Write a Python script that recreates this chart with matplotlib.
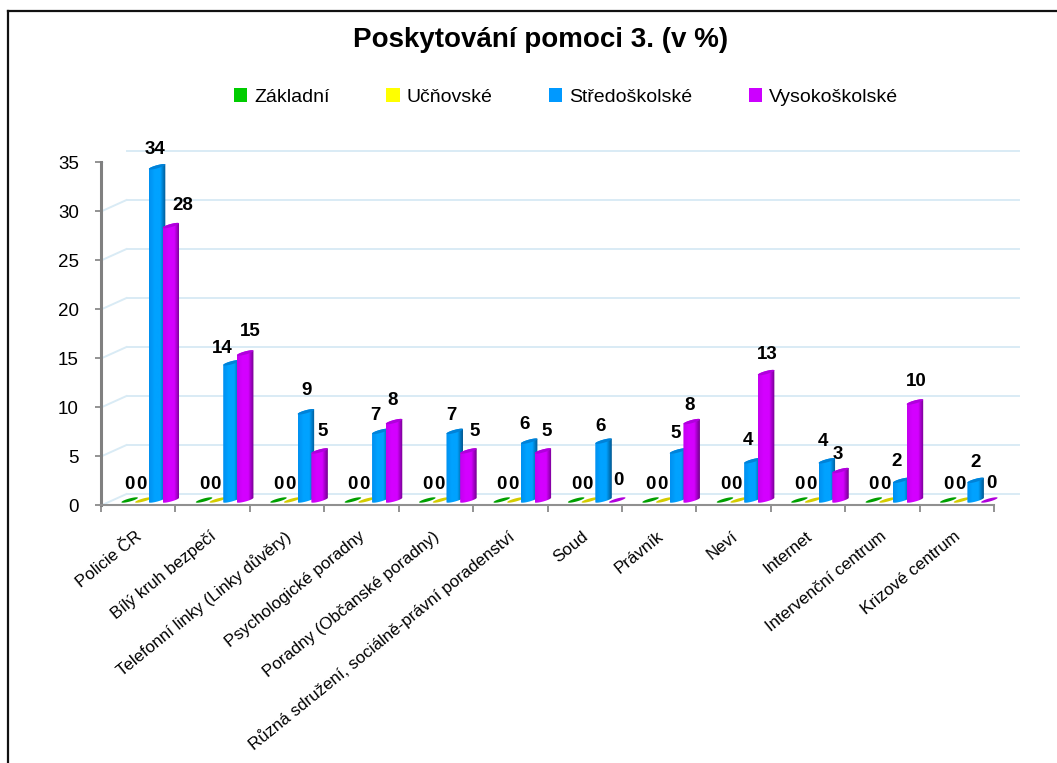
import numpy as np
import matplotlib
matplotlib.use("Agg")
import matplotlib.pyplot as plt
from matplotlib.patches import Patch, PathPatch
from matplotlib.path import Path
from matplotlib.colors import LinearSegmentedColormap
from matplotlib.transforms import Affine2D

plt.rcParams["font.family"] = ["Liberation Sans", "DejaVu Sans"]

categories = [
    "Policie ČR",
    "Bílý kruh bezpečí",
    "Telefonní linky (Linky důvěry)",
    "Psychologické poradny",
    "Poradny (Občanské poradny)",
    "Různá sdružení, sociálně-právní poradenství",
    "Soud",
    "Právník",
    "Neví",
    "Internet",
    "Intervenční centrum",
    "Krizové centrum",
]
series_names = ["Základní", "Učňovské", "Středoškolské", "Vysokoškolské"]
zakladni = [0, 0, 0, 0, 0, 0, 0, 0, 0, 0, 0, 0]
ucnovske = [0, 0, 0, 0, 0, 0, 0, 0, 0, 0, 0, 0]
stredoskolske = [34, 14, 9, 7, 7, 6, 6, 5, 4, 4, 2, 2]
vysokoskolske = [28, 15, 5, 8, 5, 5, 0, 8, 13, 3, 10, 0]
y_ticks = [0, 5, 10, 15, 20, 25, 30, 35]

legend_colors = ["#00cc00", "#ffff00", "#0099ff", "#cc00ff"]
shades = [
    ("#009a00", "#00b400", "#006a00"),
    ("#d8d800", "#e8e800", "#a8a800"),
    ("#0090f0", "#00a2ff", "#00568f"),
    ("#c400ee", "#d400ff", "#70008c"),
]
cap_colors = ["#00a000", "#d4cc00", "#0082d8", "#b000dc"]

# hand nudges for the value labels, pixels (dx, dy above bar top)
blue_dx = [-2.5, -9, 1, -5, -3, -4.5, -3, -2, -4, -4, -4.5, 0]
blue_dy = [17, 14, 21, 16, 16, 17, 15, 17, 20, 19, 19, 18]
mag_dx = [12, 5, 3, -1, 6, 4, 1, -2, 1, -3, 1, 2]
mag_dy = [20, 21, 19, 21, 19, 19, 19, 16, 18, 16, 20, 16]

W, H = 1057, 763
fig = plt.figure(figsize=(W / 100, H / 100), dpi=100)
# axes box is the front edge of the fake 3d floor
ax = fig.add_axes([101 / W, 1 - 505.5 / H, 893 / W, 343 / H])
ax.set_xlim(0, 12)
ax.set_ylim(0, 35)
ax.patch.set_visible(False)

px_x = 893 / 12
px_y = 343 / 35
back = ax.transData + Affine2D().translate(25.5, 11.5)
mid = ax.transData + Affine2D().translate(12, 5.5)

grid_c = "#d9ebf5"
for v in y_ticks:
    ax.plot([0, 12], [v, v], transform=back, color=grid_c, lw=1.4, zorder=1, clip_on=False)
    p0 = ax.transData.transform((0, v))
    p1 = back.transform((0, v))
    ax.add_line(plt.Line2D([p0[0], p1[0]], [p0[1], p1[1]], transform=None, color=grid_c, lw=1.4, zorder=1))
p0 = ax.transData.transform((12, 0))
p1 = back.transform((12, 0))
ax.add_line(plt.Line2D([p0[0], p1[0]], [p0[1], p1[1]], transform=None, color="#a0a0a0", lw=1.2, zorder=1))


def cylinder(x, w, v):
    # outline and cap of a cylinder, tops are slanted up to the right
    t = np.linspace(0, np.pi, 30)
    ex = w / 2 * np.cos(t)
    rise = 2.2 / px_y
    bulge = 1.6 / px_y
    upper = rise * np.cos(t) + bulge * np.sin(t)
    lower = rise * np.cos(t) - bulge * np.sin(t)
    body = Path(np.c_[np.r_[x + ex, (x + ex)[::-1]], np.r_[v + upper, lower[::-1]]])
    cap = Path(np.c_[np.r_[x + ex, (x + ex)[::-1]], np.r_[v + upper, v + lower[::-1]]])
    return body, cap


width = 16.5 / px_x
step = 13.7 / px_x
offsets = [-1.5 * step, -0.5 * step, 0.5 * step, 1.5 * step]
all_series = [zakladni, ucnovske, stredoskolske, vysokoskolske]

for s, vals in enumerate(all_series):
    cmap = LinearSegmentedColormap.from_list("c%d" % s, [shades[s][0], shades[s][1], shades[s][1], shades[s][2]])
    grad = np.linspace(0, 1, 64).reshape(1, -1)
    for i, v in enumerate(vals):
        x = i + 0.5 + offsets[s]
        body, cap = cylinder(x, width, v)
        if v > 0:
            im = ax.imshow(grad, cmap=cmap, aspect="auto", zorder=3 + s,
                           extent=[x - width / 2, x + width / 2, -1, v + 1], transform=mid)
            im.set_clip_path(PathPatch(body, transform=mid))
        ax.add_patch(PathPatch(cap, transform=mid, facecolor=cap_colors[s], edgecolor="none", zorder=3 + s, clip_on=False))
ax.set_xlim(0, 12)
ax.set_ylim(0, 35)

label_kw = dict(textcoords="offset pixels", ha="center", va="center", fontsize=13.5,
                fontweight="bold", color="black", annotation_clip=False, zorder=10)
for i in range(12):
    cx = i + 0.5
    for s, dx, dy, v in (
        (0, 0, 15, zakladni[i]),
        (1, -2, 15, ucnovske[i]),
        (2, blue_dx[i], blue_dy[i], stredoskolske[i]),
        (3, mag_dx[i], mag_dy[i], vysokoskolske[i]),
    ):
        base = ax.transData.inverted().transform(mid.transform((cx + offsets[s], v)))
        ax.annotate(str(v), xy=base, xytext=(dx, dy), **label_kw)
    ax.annotate(categories[i], xy=(cx, 0), xytext=(2, -29), textcoords="offset pixels",
                rotation=39, rotation_mode="anchor", ha="right", va="center",
                fontsize=12.2, annotation_clip=False)

for side in ("top", "right"):
    ax.spines[side].set_visible(False)
ax.spines["left"].set_color("#808080")
ax.spines["left"].set_linewidth(2.2)
ax.spines["bottom"].set_color("#909090")
ax.spines["bottom"].set_linewidth(1.5)
ax.set_xticks(range(13))
ax.set_xticklabels([])
ax.set_yticks(y_ticks)
ax.tick_params(axis="x", length=5, width=1.2, color="#808080")
ax.tick_params(axis="y", length=4, width=1.2, color="#808080", labelsize=13.5, pad=12)

fig.text(541 / W, 1 - 40 / H, "Poskytování pomoci 3. (v %)", ha="center", va="center",
         fontsize=20, fontweight="bold")

handles = [Patch(facecolor=c, edgecolor="none", label=n) for c, n in zip(legend_colors, series_names)]
fig.legend(handles=handles, loc="center", bbox_to_anchor=(566 / W, 1 - 97 / H), ncol=4, frameon=False,
           fontsize=14, handlelength=0.7, handleheight=0.7, handletextpad=0.35, columnspacing=2.9)

# picture frame: only the top and left edges are in the crop
fig.add_artist(plt.Line2D([8 / W, 1], [1 - 11 / H, 1 - 11 / H], color="#111111", lw=1.6))
fig.add_artist(plt.Line2D([8 / W, 8 / W], [0, 1 - 11 / H], color="#111111", lw=1.6))

fig.savefig("out.png", dpi=100)
